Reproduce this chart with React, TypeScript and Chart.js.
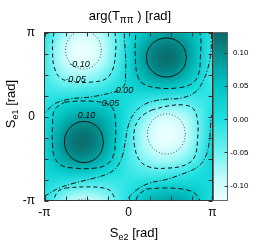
import React, { useEffect, useRef } from 'react';
import { Chart, registerables } from 'chart.js';

Chart.register(...registerables);

const PI = Math.PI;

// arg(Tππ) estimated on a grid: rows Se1 = +π (top) … −π (bottom), columns Se2 = −π … +π, step π/6
const heatRow00 = [-0.004, -0.053, -0.090, -0.101, -0.083, -0.043, 0.004, 0.045, 0.072, 0.081, 0.071, 0.041, -0.004];
const heatRow01 = [-0.014, -0.076, -0.118, -0.128, -0.103, -0.050, 0.014, 0.072, 0.110, 0.118, 0.097, 0.048, -0.014];
const heatRow02 = [-0.020, -0.077, -0.112, -0.117, -0.092, -0.042, 0.020, 0.081, 0.120, 0.127, 0.098, 0.044, -0.020];
const heatRow03 = [-0.021, -0.058, -0.078, -0.078, -0.060, -0.025, 0.021, 0.066, 0.096, 0.098, 0.072, 0.027, -0.021];
const heatRow04 = [-0.016, -0.027, -0.031, -0.026, -0.016, -0.001, 0.016, 0.031, 0.039, 0.036, 0.022, 0.002, -0.016];
const heatRow05 = [-0.007, 0.010, 0.023, 0.030, 0.031, 0.023, 0.007, -0.014, -0.031, -0.040, -0.037, -0.024, -0.007];
const heatRow06 = [0.004, 0.045, 0.072, 0.081, 0.071, 0.041, -0.004, -0.053, -0.090, -0.101, -0.083, -0.043, 0.004];
const heatRow07 = [0.014, 0.072, 0.110, 0.118, 0.097, 0.048, -0.014, -0.076, -0.118, -0.128, -0.103, -0.050, 0.014];
const heatRow08 = [0.020, 0.081, 0.120, 0.127, 0.098, 0.044, -0.020, -0.077, -0.112, -0.117, -0.092, -0.042, 0.020];
const heatRow09 = [0.021, 0.066, 0.096, 0.098, 0.072, 0.027, -0.021, -0.058, -0.078, -0.078, -0.060, -0.025, 0.021];
const heatRow10 = [0.016, 0.031, 0.039, 0.036, 0.022, 0.002, -0.016, -0.027, -0.031, -0.026, -0.016, 0.000, 0.016];
const heatRow11 = [0.007, -0.014, -0.031, -0.040, -0.037, -0.024, -0.007, 0.010, 0.023, 0.030, 0.031, 0.023, 0.007];
const heatRow12 = [-0.004, -0.053, -0.090, -0.101, -0.083, -0.043, 0.004, 0.045, 0.072, 0.081, 0.071, 0.041, -0.004];
const heatRows = [heatRow00, heatRow01, heatRow02, heatRow03, heatRow04, heatRow05, heatRow06, heatRow07, heatRow08, heatRow09, heatRow10, heatRow11, heatRow12];

// palette
const colorStopValues = [-0.1225, -0.09, -0.05, 0.0, 0.05, 0.09, 0.131];
const colorStopColors = ['#eaffff', '#c4fcfc', '#70f2f2', '#1ee0e0', '#00c4c4', '#009a9a', '#0c6868'];
const colorbarMin = -0.1225;
const colorbarMax = 0.131;
const colorbarTicks = [-0.1, -0.05, 0, 0.05, 0.1];
const colorbarTickLabels = ['-0.10', '-0.05', '0.00', '0.05', '0.10'];

// axes
const axisTicks = [-PI, -3 * PI / 4, -PI / 2, -PI / 4, 0, PI / 4, PI / 2, 3 * PI / 4, PI];
const axisTickLabels = ['-π', '', '', '', '0', '', '', '', 'π'];

type P = [number, number];
// contour lines [Se2, Se1]
const contour010A: P[] = [[-0.935, -0.954], [-1.033, -0.570], [-1.300, -0.290], [-1.664, -0.187], [-2.028, -0.290], [-2.295, -0.570], [-2.393, -0.954], [-2.295, -1.337], [-2.028, -1.618], [-1.664, -1.721], [-1.300, -1.618], [-1.033, -1.337], [-0.935, -0.954]];
const contour010B: P[] = [[2.169, 2.206], [2.069, 2.571], [1.795, 2.837], [1.421, 2.935], [1.047, 2.837], [0.773, 2.571], [0.673, 2.206], [0.773, 1.841], [1.047, 1.575], [1.421, 1.477], [1.795, 1.575], [2.069, 1.841], [2.169, 2.206]];
const contourM010C: P[] = [[-1.010, 2.487], [-1.100, 2.843], [-1.346, 3.103], [-1.683, 3.198], [-2.020, 3.103], [-2.266, 2.843], [-2.356, 2.487], [-2.266, 2.131], [-2.020, 1.871], [-1.683, 1.776], [-1.346, 1.871], [-1.100, 2.131], [-1.010, 2.487]];
const contourM010D: P[] = [[2.132, -0.654], [2.037, -0.280], [1.777, -0.006], [1.421, 0.094], [1.065, -0.006], [0.805, -0.280], [0.710, -0.654], [0.805, -1.028], [1.065, -1.302], [1.421, -1.402], [1.777, -1.302], [2.037, -1.028], [2.132, -0.654]];
const contour005A: P[] = [[-2.39, 0.54], [-1.65, 0.58], [-0.90, 0.51], [-0.60, 0.32], [-0.49, -0.13], [-0.49, -0.88], [-0.56, -1.44], [-0.79, -1.78], [-1.27, -1.93], [-2.02, -1.93], [-2.54, -1.81], [-2.77, -1.51], [-2.84, -1.07], [-2.84, -0.32], [-2.77, 0.24], [-2.39, 0.54]];
const contour005B: P[] = [[0.67, 3.57], [1.42, 3.61], [2.21, 3.53], [2.54, 3.35], [2.69, 3.01], [2.69, 2.26], [2.62, 1.59], [2.36, 1.22], [1.83, 1.07], [1.09, 1.07], [0.56, 1.22], [0.34, 1.52], [0.26, 2.11], [0.26, 2.86], [0.34, 3.30], [0.67, 3.57]];
const contourM005C: P[] = [[-2.36, 3.61], [-1.65, 3.65], [-0.94, 3.61], [-0.64, 3.46], [-0.49, 3.01], [-0.49, 2.30], [-0.60, 1.74], [-0.86, 1.40], [-1.38, 1.29], [-2.06, 1.29], [-2.54, 1.44], [-2.77, 1.81], [-2.84, 2.41], [-2.81, 3.01], [-2.66, 3.46], [-2.36, 3.61]];
const contourM005D: P[] = [[0.86, 0.24], [1.46, 0.39], [2.09, 0.43], [2.43, 0.28], [2.58, -0.13], [2.58, -0.88], [2.47, -1.51], [2.13, -1.81], [1.46, -1.93], [0.79, -1.89], [0.41, -1.63], [0.22, -1.07], [0.22, -0.50], [0.37, -0.13], [0.60, 0.09], [0.86, 0.24]];
const contour000a: P[] = [[-3.33, 0.02], [-3.14, 0.13], [-2.77, 0.47], [-2.21, 0.65], [-1.42, 0.73], [-0.67, 0.88], [-0.34, 0.99], [-0.15, 1.18], [-0.11, 1.55], [-0.11, 2.30], [-0.15, 2.86], [-0.15, 3.42]];
const contour000b: P[] = [[-0.07, -3.42], [-0.04, -3.12], [0.30, -2.75], [0.79, -2.49], [1.35, -2.37], [1.91, -2.19], [2.58, -1.89], [2.88, -1.51], [3.03, -0.88], [3.07, -0.32], [3.14, 0.09], [3.33, 0.21]];
const contour000c: P[] = [[3.10, 3.46], [3.10, 3.12], [3.10, 2.86], [3.07, 2.30], [2.95, 1.74], [2.77, 1.29], [2.51, 0.92], [1.98, 0.69], [1.46, 0.65], [0.97, 0.58], [0.56, 0.43], [0.22, 0.13], [0.00, -0.32], [-0.11, -0.88], [-0.22, -1.44], [-0.41, -1.85], [-0.71, -2.11], [-1.27, -2.30], [-2.02, -2.49], [-2.58, -2.67], [-3.07, -2.94], [-3.33, -3.09]];
const contour000d: P[] = [[3.33, -2.86], [3.14, -2.97], [3.10, -3.16], [3.10, -3.42]];

const contourLabelTexts = ['-0.10', '-0.05', '0.00', '0.05', '0.10'];
const contourLabelSe2 = [-1.83, -1.98, -0.15, -0.67, -1.57];
const contourLabelSe1 = [1.96, 1.37, 0.99, 0.49, 0.04];

const levelStyle: Record<string, { dash: number[]; color: string }> = {
  '0.10': { dash: [], color: '#111111' },
  '0.05': { dash: [5, 3], color: '#111111' },
  '0.00': { dash: [5, 2, 1, 2], color: '#111111' },
  '-0.05': { dash: [4, 3], color: '#111111' },
  '-0.10': { dash: [1, 2], color: '#555555' },
};

const contourLines: { level: string; pts: P[]; wrap: boolean }[] = [
  { level: '0.10', pts: contour010A, wrap: true },
  { level: '0.10', pts: contour010B, wrap: true },
  { level: '-0.10', pts: contourM010C, wrap: true },
  { level: '-0.10', pts: contourM010D, wrap: true },
  { level: '0.05', pts: contour005A, wrap: true },
  { level: '0.05', pts: contour005B, wrap: true },
  { level: '-0.05', pts: contourM005C, wrap: true },
  { level: '-0.05', pts: contourM005D, wrap: true },
  { level: '0.00', pts: contour000a, wrap: false },
  { level: '0.00', pts: contour000b, wrap: false },
  { level: '0.00', pts: contour000c, wrap: false },
  { level: '0.00', pts: contour000d, wrap: false },
];

const FONT = "'Liberation Sans', Arial, sans-serif";

function hexToRgb(h: string): number[] {
  return [parseInt(h.slice(1, 3), 16), parseInt(h.slice(3, 5), 16), parseInt(h.slice(5, 7), 16)];
}
const stopRgb = colorStopColors.map(hexToRgb);
function colorFor(v: number): number[] {
  if (v <= colorStopValues[0]) return stopRgb[0];
  for (let k = 1; k < colorStopValues.length; k++) {
    if (v <= colorStopValues[k]) {
      const t = (v - colorStopValues[k - 1]) / (colorStopValues[k] - colorStopValues[k - 1]);
      return stopRgb[k].map((c, q) => Math.round(stopRgb[k - 1][q] + (c - stopRgb[k - 1][q]) * t));
    }
  }
  return stopRgb[stopRgb.length - 1];
}

type Part = { t: string; size: number; dy: number; style?: string };
function drawParts(ctx: CanvasRenderingContext2D, parts: Part[], cx: number, baseline: number) {
  let total = 0;
  const widths = parts.map((p) => {
    ctx.font = `${p.style || ''} ${p.size}px ${FONT}`;
    const w = ctx.measureText(p.t).width;
    total += w;
    return w;
  });
  let x = cx - total / 2;
  ctx.textAlign = 'left';
  ctx.textBaseline = 'alphabetic';
  parts.forEach((p, i) => {
    ctx.font = `${p.style || ''} ${p.size}px ${FONT}`;
    ctx.fillText(p.t, x, baseline + p.dy);
    x += widths[i];
  });
}

export default function App() {
  const ref = useRef<HTMLCanvasElement>(null);

  useEffect(() => {
    document.body.style.margin = '0';
    const canvas = ref.current!;
    const nRows = heatRows.length;
    const nCols = heatRows[0].length;
    const off = document.createElement('canvas');
    off.width = nCols;
    off.height = nRows;
    const octx = off.getContext('2d')!;
    const img = octx.createImageData(nCols, nRows);
    heatRows.forEach((row, i) =>
      row.forEach((v, j) => {
        const c = colorFor(v);
        const k = (i * nCols + j) * 4;
        img.data[k] = c[0];
        img.data[k + 1] = c[1];
        img.data[k + 2] = c[2];
        img.data[k + 3] = 255;
      })
    );
    octx.putImageData(img, 0, 0);

    const datasets: any[] = [];
    contourLines.forEach((c) => {
      const st = levelStyle[c.level];
      const shifts: number[] = c.wrap ? [-2 * PI, 0, 2 * PI] : [0];
      shifts.forEach((dx) =>
        shifts.forEach((dy) => {
          const pts = c.pts.map(([x, y]) => ({ x: x + dx, y: y + dy }));
          const xs = pts.map((p) => p.x);
          const ys = pts.map((p) => p.y);
          if (Math.max(...xs) < -PI || Math.min(...xs) > PI || Math.max(...ys) < -PI || Math.min(...ys) > PI) return;
          datasets.push({
            data: pts,
            showLine: true,
            pointRadius: 0,
            borderWidth: 1,
            borderColor: st.color,
            borderDash: st.dash,
            tension: 0.4,
            fill: false,
          });
        })
      );
    });

    const plugin = {
      id: 'heatmapDecor',
      beforeDatasetsDraw(chart: any) {
        const { ctx, chartArea: a, scales } = chart;
        const x0 = scales.x.getPixelForValue(-PI);
        const x1 = scales.x.getPixelForValue(PI);
        const y0 = scales.y.getPixelForValue(PI);
        const y1 = scales.y.getPixelForValue(-PI);
        const cw = (x1 - x0) / (nCols - 1);
        const ch = (y1 - y0) / (nRows - 1);
        ctx.save();
        ctx.beginPath();
        ctx.rect(a.left, a.top, a.right - a.left, a.bottom - a.top);
        ctx.clip();
        ctx.imageSmoothingEnabled = true;
        ctx.imageSmoothingQuality = 'high';
        ctx.drawImage(off, x0 - cw / 2, y0 - ch / 2, cw * nCols, ch * nRows);
        ctx.restore();
      },
      afterDatasetsDraw(chart: any) {
        const { ctx, chartArea: a, scales } = chart;
        ctx.save();
        // contour labels
        ctx.fillStyle = '#000';
        ctx.font = `italic 9px ${FONT}`;
        ctx.textAlign = 'center';
        ctx.textBaseline = 'middle';
        contourLabelTexts.forEach((t, i) => {
          ctx.fillText(t, scales.x.getPixelForValue(contourLabelSe2[i]), scales.y.getPixelForValue(contourLabelSe1[i]));
        });
        // frame
        ctx.strokeStyle = '#333';
        ctx.lineWidth = 1;
        ctx.strokeRect(a.left, a.top, a.right - a.left, a.bottom - a.top);
        // inward ticks
        ctx.beginPath();
        axisTicks.forEach((v) => {
          const px = Math.round(scales.x.getPixelForValue(v)) + 0.5;
          ctx.moveTo(px, a.bottom);
          ctx.lineTo(px, a.bottom - 4);
          ctx.moveTo(px, a.top);
          ctx.lineTo(px, a.top + 4);
          const py = Math.round(scales.y.getPixelForValue(v)) + 0.5;
          ctx.moveTo(a.left, py);
          ctx.lineTo(a.left + 4, py);
          ctx.moveTo(a.right, py);
          ctx.lineTo(a.right - 4, py);
        });
        ctx.stroke();
        // colorbar
        const cb = scales.cb;
        const cbL = a.right + 1;
        const cbR = cbL + 14;
        const grad = ctx.createLinearGradient(0, cb.getPixelForValue(colorbarMax), 0, cb.getPixelForValue(colorbarMin));
        colorStopValues.forEach((v, i) => {
          const t = (colorbarMax - v) / (colorbarMax - colorbarMin);
          grad.addColorStop(Math.min(1, Math.max(0, t)), colorStopColors[i]);
        });
        ctx.fillStyle = grad;
        ctx.fillRect(cbL, a.top, cbR - cbL, a.bottom - a.top);
        ctx.strokeStyle = '#666';
        ctx.strokeRect(cbL, a.top, cbR - cbL, a.bottom - a.top);
        ctx.beginPath();
        colorbarTicks.forEach((v) => {
          const py = Math.round(cb.getPixelForValue(v)) + 0.5;
          ctx.moveTo(cbR, py);
          ctx.lineTo(cbR - 3, py);
        });
        ctx.strokeStyle = '#333';
        ctx.stroke();
        // titles
        ctx.fillStyle = '#000';
        drawParts(ctx, [
          { t: 'arg(T', size: 13, dy: 0 },
          { t: 'ππ', size: 10, dy: 3 },
          { t: ' ) [rad]', size: 13, dy: 0 },
        ], 130, 19.5);
        drawParts(ctx, [
          { t: 'S', size: 13, dy: 0 },
          { t: 'e2', size: 9, dy: 3 },
          { t: ' [rad]', size: 13, dy: 0 },
        ], 134, 236.5);
        ctx.translate(15, 104);
        ctx.rotate(-PI / 2);
        drawParts(ctx, [
          { t: 'S', size: 13, dy: 0 },
          { t: 'e1', size: 9, dy: 3 },
          { t: ' [rad]', size: 13, dy: 0 },
        ], 0, 0);
        ctx.restore();
      },
    };

    const chart = new Chart(canvas, {
      type: 'scatter',
      data: { datasets },
      options: {
        responsive: false,
        animation: false,
        devicePixelRatio: 1,
        events: [],
        layout: { padding: { top: 32.5, right: 12.5, left: 0, bottom: 0 } },
        plugins: { legend: { display: false }, tooltip: { enabled: false }, title: { display: false } },
        scales: {
          x: {
            type: 'linear',
            min: -PI,
            max: PI,
            afterBuildTicks: (s: any) => { s.ticks = axisTicks.map((v) => ({ value: v })); },
            afterFit: (s: any) => { s.height = 44.5; },
            grid: { display: false, drawTicks: false },
            border: { display: false },
            ticks: {
              autoSkip: false,
              maxRotation: 0,
              padding: 5,
              color: '#000',
              font: { size: 12, family: FONT },
              callback: (_v: any, i: number) => axisTickLabels[i],
            },
          },
          y: {
            type: 'linear',
            min: -PI,
            max: PI,
            afterBuildTicks: (s: any) => { s.ticks = axisTicks.map((v) => ({ value: v })); },
            afterFit: (s: any) => { s.width = 44.5; },
            grid: { display: false, drawTicks: false },
            border: { display: false },
            ticks: {
              autoSkip: false,
              padding: 9.5,
              color: '#000',
              font: { size: 12, family: FONT },
              callback: (_v: any, i: number) => axisTickLabels[i],
            },
          },
          cb: {
            type: 'linear',
            axis: 'y',
            position: 'right',
            min: colorbarMin,
            max: colorbarMax,
            afterBuildTicks: (s: any) => { s.ticks = colorbarTicks.map((v) => ({ value: v })); },
            afterFit: (s: any) => { s.width = 36; },
            grid: { display: false, drawTicks: false },
            border: { display: false },
            ticks: {
              autoSkip: false,
              padding: 0,
              crossAlign: 'far',
              color: '#000',
              font: { size: 8, family: FONT },
              callback: (_v: any, i: number) => colorbarTickLabels[i],
            },
          },
        } as any,
      },
      plugins: [plugin],
    });
    return () => chart.destroy();
  }, []);

  return (
    <div style={{ position: 'fixed', left: 0, top: 0, width: 261, height: 245, background: '#fff' }}>
      <canvas ref={ref} width={261} height={245} style={{ width: 261, height: 245, display: 'block' }} />
    </div>
  );
}
